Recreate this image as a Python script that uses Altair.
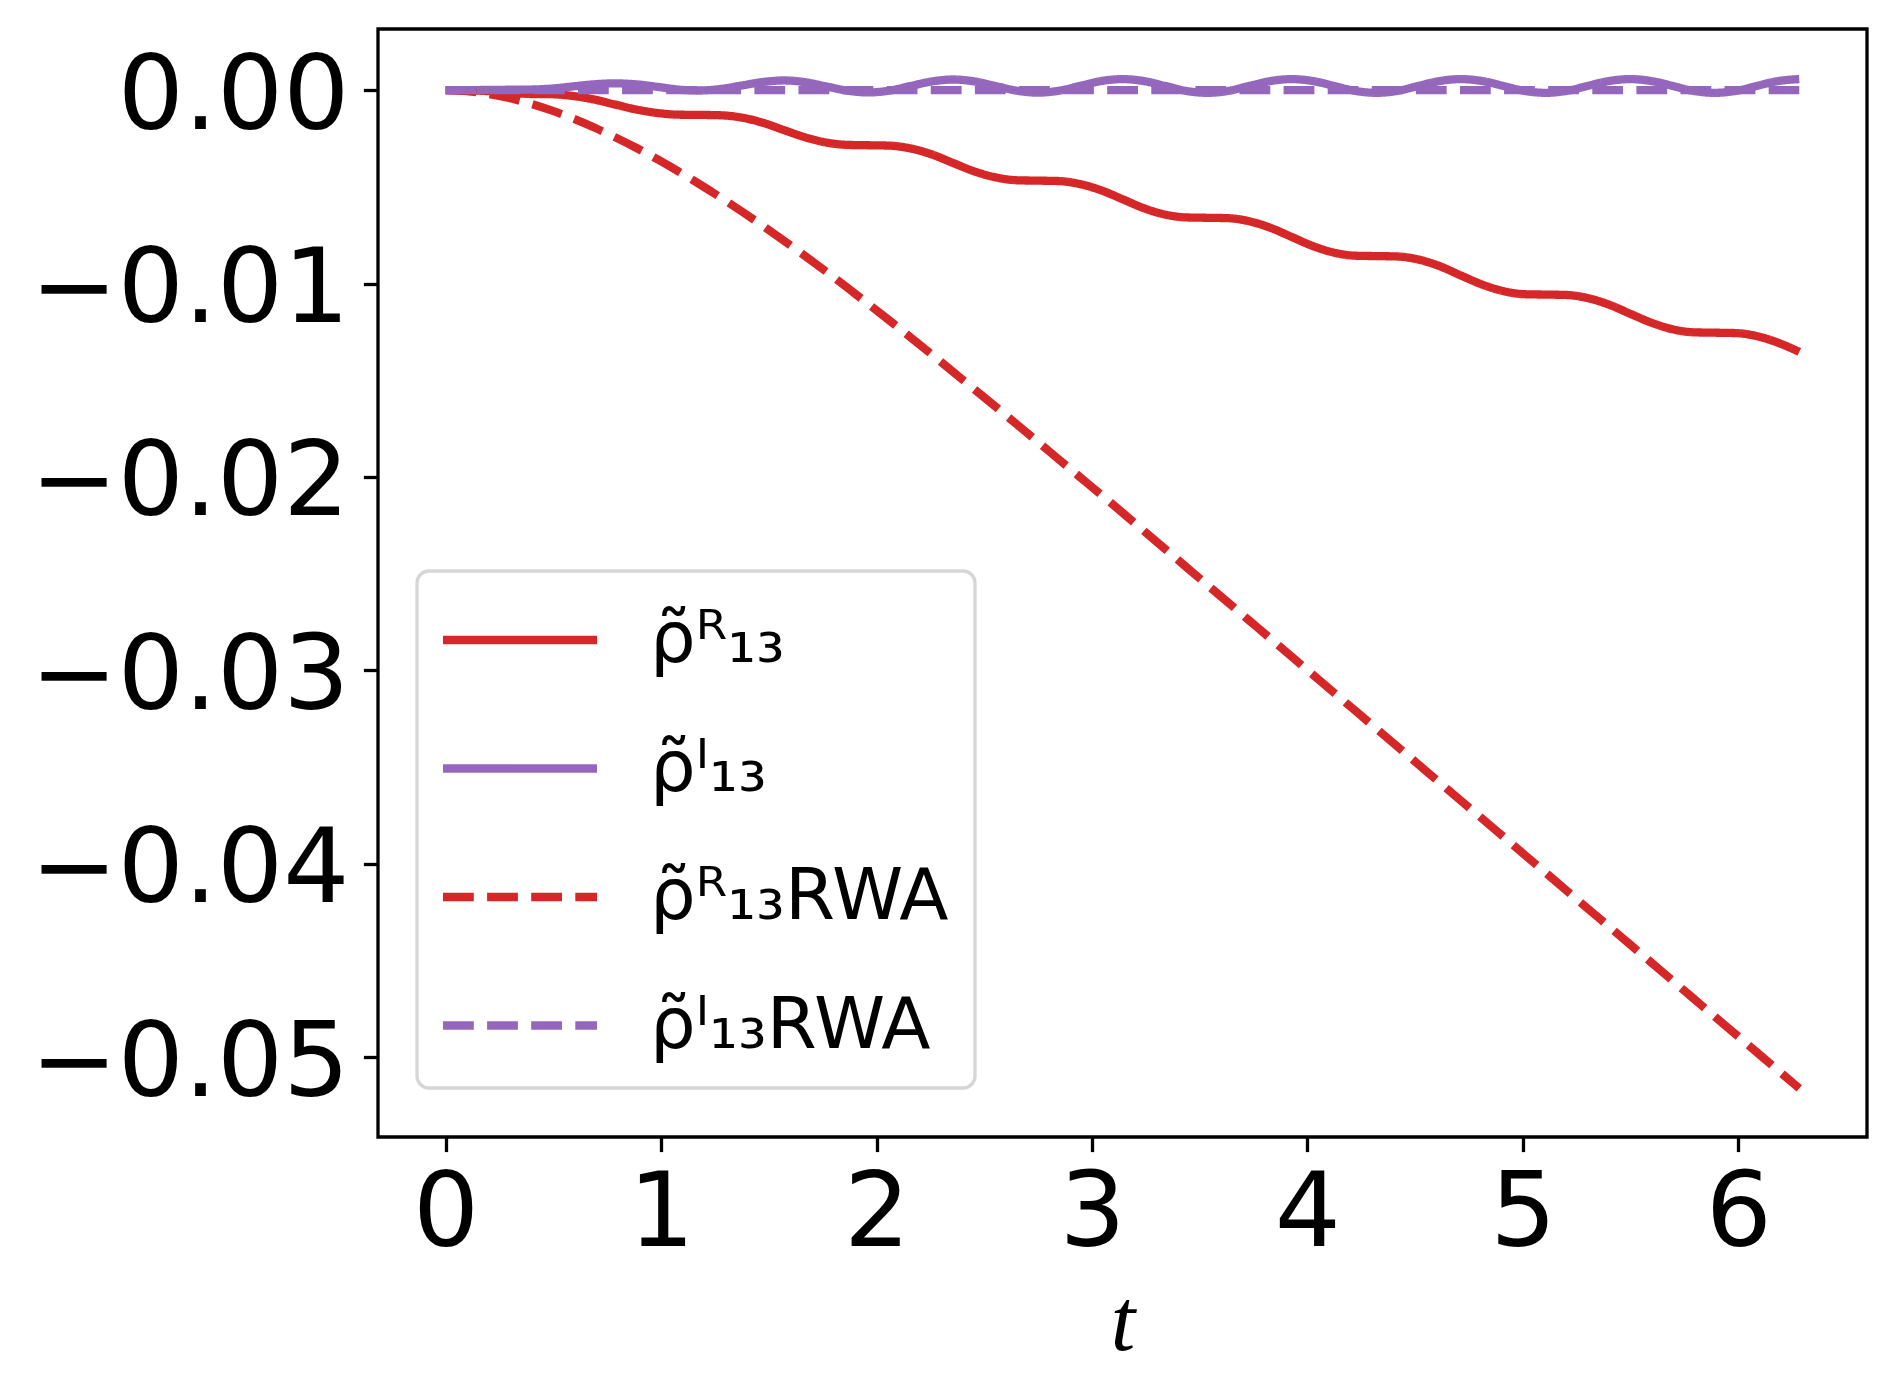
import altair as alt
import pandas as pd

# time grid (t in [0, 2*pi])
T = [0.000, 0.098, 0.196, 0.295, 0.393, 0.491, 0.589, 0.687, 0.785, 0.884,
     0.982, 1.080, 1.178, 1.276, 1.374, 1.473, 1.571, 1.669, 1.767, 1.865,
     1.963, 2.062, 2.160, 2.258, 2.356, 2.454, 2.553, 2.651, 2.749, 2.847,
     2.945, 3.043, 3.142, 3.240, 3.338, 3.436, 3.534, 3.633, 3.731, 3.829,
     3.927, 4.025, 4.123, 4.222, 4.320, 4.418, 4.516, 4.614, 4.712, 4.811,
     4.909, 5.007, 5.105, 5.203, 5.301, 5.400, 5.498, 5.596, 5.694, 5.792,
     5.890, 5.989, 6.087, 6.185, 6.283]

RHO_R = [0.0, -0.00001, -0.00005, -0.00012, -0.00020,
         -0.00021, -0.00030, -0.00048, -0.00074, -0.00100, -0.00118, -0.00127, -0.00128,
         -0.00130, -0.00142, -0.00169, -0.00207, -0.00244, -0.00271, -0.00283, -0.00285,
         -0.00287, -0.00302, -0.00333, -0.00377, -0.00420, -0.00451, -0.00466, -0.00468,
         -0.00470, -0.00486, -0.00518, -0.00564, -0.00610, -0.00643, -0.00658, -0.00660,
         -0.00662, -0.00678, -0.00712, -0.00759, -0.00806, -0.00840, -0.00856, -0.00858,
         -0.00860, -0.00876, -0.00910, -0.00958, -0.01005, -0.01039, -0.01055, -0.01057,
         -0.01059, -0.01075, -0.01109, -0.01156, -0.01202, -0.01236, -0.01252, -0.01254,
         -0.01256, -0.01272, -0.01306, -0.01353]

RHO_I = [0.0, 0.0, 0.00001, 0.00002, 0.00003,
         0.00008, 0.00019, 0.00030, 0.00035,
         0.00030, 0.00017, 0.00003, -0.00002,
         0.00006, 0.00024, 0.00042, 0.00050,
         0.00041, 0.00019, -0.00003, -0.00012,
         -0.00002, 0.00022, 0.00045, 0.00055,
         0.00045, 0.00021, -0.00003, -0.00013,
         -0.00003, 0.00022, 0.00047, 0.00057,
         0.00047, 0.00022, -0.00004, -0.00014,
         -0.00004, 0.00022, 0.00047, 0.00057,
         0.00047, 0.00022, -0.00004, -0.00014,
         -0.00004, 0.00022, 0.00047, 0.00057,
         0.00047, 0.00022, -0.00004, -0.00014,
         -0.00004, 0.00022, 0.00047, 0.00057,
         0.00047, 0.00022, -0.00004, -0.00014,
         -0.00004, 0.00022, 0.00047, 0.00057]

RHO_R_RWA = [0.0, -0.00005, -0.00019, -0.00041, -0.00070, -0.00105, -0.00146, -0.00192,
             -0.00243, -0.00298, -0.00357, -0.00420, -0.00486, -0.00555, -0.00627, -0.00702,
             -0.00779, -0.00858, -0.00939, -0.01022, -0.01107, -0.01193, -0.01280, -0.01368,
             -0.01457, -0.01547, -0.01637, -0.01728, -0.01819, -0.01910, -0.02001, -0.02092,
             -0.02185, -0.02278, -0.02371, -0.02464, -0.02557, -0.02650, -0.02743, -0.02836,
             -0.02929, -0.03022, -0.03115, -0.03208, -0.03301, -0.03394, -0.03487, -0.03580,
             -0.03673, -0.03766, -0.03859, -0.03952, -0.04045, -0.04138, -0.04231, -0.04324,
             -0.04417, -0.04510, -0.04603, -0.04696, -0.04789, -0.04882, -0.04975, -0.05068,
             -0.05161]

T_I_RWA = [0.0, 6.283]
RHO_I_RWA = [0.0, 0.0]

SERIES = ["ρ̃ᴿ₁₃", "ρ̃ᴵ₁₃", "ρ̃ᴿ₁₃RWA", "ρ̃ᴵ₁₃RWA"]
COLORS = ["#d62728", "#9467bd", "#d62728", "#9467bd"]
DASHES = [[1, 0], [1, 0], [30.8, 13.3], [30.8, 13.3]]

X_TICKS = [0, 1, 2, 3, 4, 5, 6]
Y_TICKS = [0.0, -0.01, -0.02, -0.03, -0.04, -0.05]

rows = []
for tt, v in zip(T, RHO_R):
    rows.append({"t": tt, "v": v, "series": SERIES[0]})
for tt, v in zip(T, RHO_I):
    rows.append({"t": tt, "v": v, "series": SERIES[1]})
for tt, v in zip(T, RHO_R_RWA):
    rows.append({"t": tt, "v": v, "series": SERIES[2]})
for tt, v in zip(T_I_RWA, RHO_I_RWA):
    rows.append({"t": tt, "v": v, "series": SERIES[3]})
df = pd.DataFrame(rows)

legend = alt.Legend(
    title=None, orient="none", legendX=39, legendY=542,
    symbolType="M-2,0H2", symbolSize=5929, symbolStrokeWidth=8.3, symbolOffset=34,
    labelFont="DejaVu Sans", labelFontSize=72, labelColor="black",
    labelOffset=87, labelLimit=3000, rowPadding=49.5, padding=26,
    fillColor="white", strokeColor="#d6d6d6", cornerRadius=12,
)

x = alt.X("t:Q",
          scale=alt.Scale(domain=[-0.31416, 6.59734], nice=False, zero=False),
          axis=alt.Axis(values=X_TICKS, format="d", title="t", grid=False, domain=False,
                        labelFont="DejaVu Sans", labelFontSize=104, labelColor="black",
                        labelPadding=12, tickSize=14.6, tickWidth=3.3, tickColor="black",
                        labelFlush=False, labelOverlap=False, labelLimit=1000,
                        titleFont="Liberation Serif", titleFontStyle="italic",
                        titleFontWeight="normal", titleFontSize=88, titleColor="black",
                        titleY=212, titleBaseline="alphabetic"))
y = alt.Y("v:Q",
          scale=alt.Scale(domain=[-0.05412, 0.00316], nice=False, zero=False),
          axis=alt.Axis(values=Y_TICKS, format=".2f", title=None, grid=False, domain=False,
                        labelFont="DejaVu Sans", labelFontSize=104, labelColor="black",
                        labelPadding=14.6, labelOffset=7, tickSize=14.6, tickWidth=3.3,
                        tickColor="black", labelFlush=False, labelOverlap=False,
                        labelLimit=1000))
color = alt.Color("series:N", scale=alt.Scale(domain=SERIES, range=COLORS), legend=legend)
dash = alt.StrokeDash("series:N", scale=alt.Scale(domain=SERIES, range=DASHES), legend=legend)

layers = []
for s in SERIES:
    layers.append(
        alt.Chart(df)
        .transform_filter(alt.datum.series == s)
        .mark_line(strokeWidth=8.3, interpolate="monotone", strokeCap="butt")
        .encode(x=x, y=y, color=color, strokeDash=dash)
    )

chart = alt.layer(*layers).properties(
    width=1489, height=1108,
    autosize=alt.AutoSizeParams(type="none"),
    padding={"left": 370, "top": 21, "right": 20, "bottom": 230},
    background="white",
).configure_view(stroke="black", strokeWidth=3.3)

try:
    chart2 = chart.configure_legend(strokeWidth=3.3)
    chart2.to_dict()
    chart = chart2
except Exception:
    pass

chart.save("out.html", embed_options={"renderer": "svg", "actions": False})
